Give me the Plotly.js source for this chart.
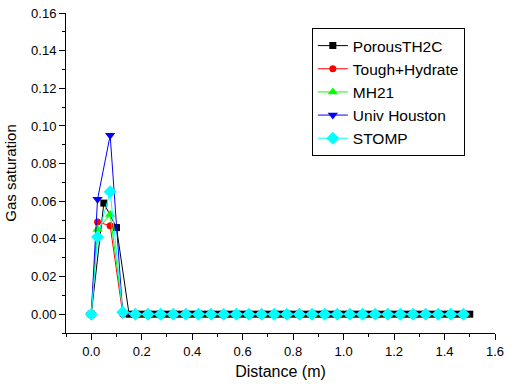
<!DOCTYPE html>
<html>
<head>
<meta charset="utf-8">
<script src="https://cdn.plot.ly/plotly-3.0.1.min.js"></script>
<style>html,body{margin:0;padding:0;background:#fff;}#chart{width:515px;height:384px;}</style>
</head>
<body>
<div id="chart"></div>
<script>
// Series names
const seriesNames = ["PorousTH2C", "Tough+Hydrate", "MH21", "Univ Houston", "STOMP"];

// PorousTH2C (dense grid)
const xPorous = [0, 0.05, 0.1, 0.15, 0.175, 0.2, 0.225, 0.25, 0.275, 0.3, 0.325, 0.35, 0.375, 0.4, 0.425, 0.45, 0.475,
  0.5, 0.525, 0.55, 0.575, 0.6, 0.625, 0.65, 0.675, 0.7, 0.725, 0.75, 0.775, 0.8, 0.825, 0.85, 0.875,
  0.9, 0.925, 0.95, 0.975, 1.0, 1.025, 1.05, 1.075, 1.1, 1.125, 1.15, 1.175, 1.2, 1.225, 1.25, 1.275,
  1.3, 1.325, 1.35, 1.375, 1.4, 1.425, 1.45, 1.475, 1.5];
const yPorous = [0, 0.059, 0.046, 0, 0, 0, 0, 0, 0, 0, 0, 0, 0, 0, 0, 0, 0,
  0, 0, 0, 0, 0, 0, 0, 0, 0, 0, 0, 0, 0, 0, 0, 0,
  0, 0, 0, 0, 0, 0, 0, 0, 0, 0, 0, 0, 0, 0, 0, 0,
  0, 0, 0, 0, 0, 0, 0, 0, 0];

// Other codes share a grid
const xGrid = [0, 0.025, 0.075, 0.125, 0.175, 0.225, 0.275, 0.325, 0.375, 0.425, 0.475, 0.525, 0.575, 0.625,
  0.675, 0.725, 0.775, 0.825, 0.875, 0.925, 0.975, 1.025, 1.075, 1.125, 1.175, 1.225, 1.275, 1.325,
  1.375, 1.425, 1.475];
const yTough = [0, 0.049, 0.047, 0, 0, 0, 0, 0, 0, 0, 0, 0, 0, 0, 0, 0, 0, 0, 0, 0, 0, 0, 0, 0, 0, 0, 0, 0, 0, 0, 0];
const yMH21 = [0, 0.045, 0.053, 0.002, 0, 0, 0, 0, 0, 0, 0, 0, 0, 0, 0, 0, 0, 0, 0, 0, 0, 0, 0, 0, 0, 0, 0, 0, 0, 0, 0];
const yHouston = [0, 0.061, 0.095, 0, 0, 0, 0, 0, 0, 0, 0, 0, 0, 0, 0, 0, 0, 0, 0, 0, 0, 0, 0, 0, 0, 0, 0, 0, 0, 0, 0];
const yStomp = [0, 0.041, 0.065, 0.001, 0, 0, 0, 0, 0, 0, 0, 0, 0, 0, 0, 0, 0, 0, 0, 0, 0, 0, 0, 0, 0, 0, 0, 0, 0, 0, 0];

const FONT = "Arial, 'Liberation Sans', sans-serif";

const traces = [
  {x: xPorous, y: yPorous, name: seriesNames[0], mode: "lines+markers",
   line: {color: "#000000", width: 1}, marker: {symbol: "square", size: 7, color: "#000000"}},
  {x: xGrid, y: yTough, name: seriesNames[1], mode: "lines+markers",
   line: {color: "#ff0000", width: 1}, marker: {symbol: "circle", size: 7, color: "#ff0000"}},
  {x: xGrid, y: yMH21, name: seriesNames[2], mode: "lines+markers",
   line: {color: "#00ff00", width: 1}, marker: {symbol: "triangle-up", size: 9, color: "#00ff00"}},
  {x: xGrid, y: yHouston, name: seriesNames[3], mode: "lines+markers",
   line: {color: "#0000ff", width: 1}, marker: {symbol: "triangle-down", size: 9, color: "#0000ff"}},
  {x: xGrid, y: yStomp, name: seriesNames[4], mode: "lines+markers",
   line: {color: "#00ffff", width: 1}, marker: {symbol: "diamond", size: 10, color: "#00ffff"}}
];

const xRange = [-0.1, 1.6];
const yRange = [-0.01, 0.16];

const layout = {
  width: 515, height: 384,
  margin: {l: 66, r: 20, t: 13, b: 51},
  paper_bgcolor: "#ffffff", plot_bgcolor: "#ffffff",
  font: {family: FONT, color: "#000000", size: 13},
  showlegend: true,
  legend: {x: 0.573, y: 0.953, xanchor: "left", yanchor: "top",
    bgcolor: "#ffffff", bordercolor: "#000000", borderwidth: 1,
    font: {family: FONT, size: 15.5, color: "#000000"}, tracegroupgap: 0},
  xaxis: {range: xRange, dtick: 0.2, tick0: 0, tickformat: ".1f",
    showgrid: false, zeroline: false, showline: true, linecolor: "#000", linewidth: 1,
    ticks: "outside", ticklen: 6, tickcolor: "#000", tickwidth: 1,
    minor: {dtick: 0.1, tick0: 0, ticks: "outside", ticklen: 3, tickcolor: "#000", showgrid: false},
    tickfont: {family: FONT, size: 13},
    title: {text: "Distance (m)", font: {family: FONT, size: 16}, standoff: 8}},
  yaxis: {range: yRange, dtick: 0.02, tick0: 0, tickformat: ".2f",
    showgrid: false, zeroline: false, showline: true, linecolor: "#000", linewidth: 1,
    ticks: "outside", ticklen: 6, tickcolor: "#000", tickwidth: 1,
    minor: {dtick: 0.01, tick0: 0, ticks: "outside", ticklen: 3, tickcolor: "#000", showgrid: false},
    tickfont: {family: FONT, size: 13},
    title: {text: "Gas saturation", font: {family: FONT, size: 15}, standoff: 10}},
  xaxis2: {overlaying: "x", side: "top", anchor: "y", range: xRange, dtick: 0.2, tick0: 0,
    showticklabels: false, showgrid: false, zeroline: false, showline: true, linecolor: "#000", linewidth: 1,
    ticks: "inside", ticklen: 6, tickcolor: "#000",
    minor: {dtick: 0.1, tick0: 0, ticks: "inside", ticklen: 3, tickcolor: "#000", showgrid: false}},
  yaxis2: {overlaying: "y", side: "right", anchor: "x", range: yRange, dtick: 0.02, tick0: 0,
    showticklabels: false, showgrid: false, zeroline: false, showline: true, linecolor: "#000", linewidth: 1,
    ticks: "inside", ticklen: 6, tickcolor: "#000",
    minor: {dtick: 0.01, tick0: 0, ticks: "inside", ticklen: 3, tickcolor: "#000", showgrid: false}}
};

Plotly.newPlot("chart", traces, layout, {staticPlot: true, displayModeBar: false});
</script>
</body>
</html>
